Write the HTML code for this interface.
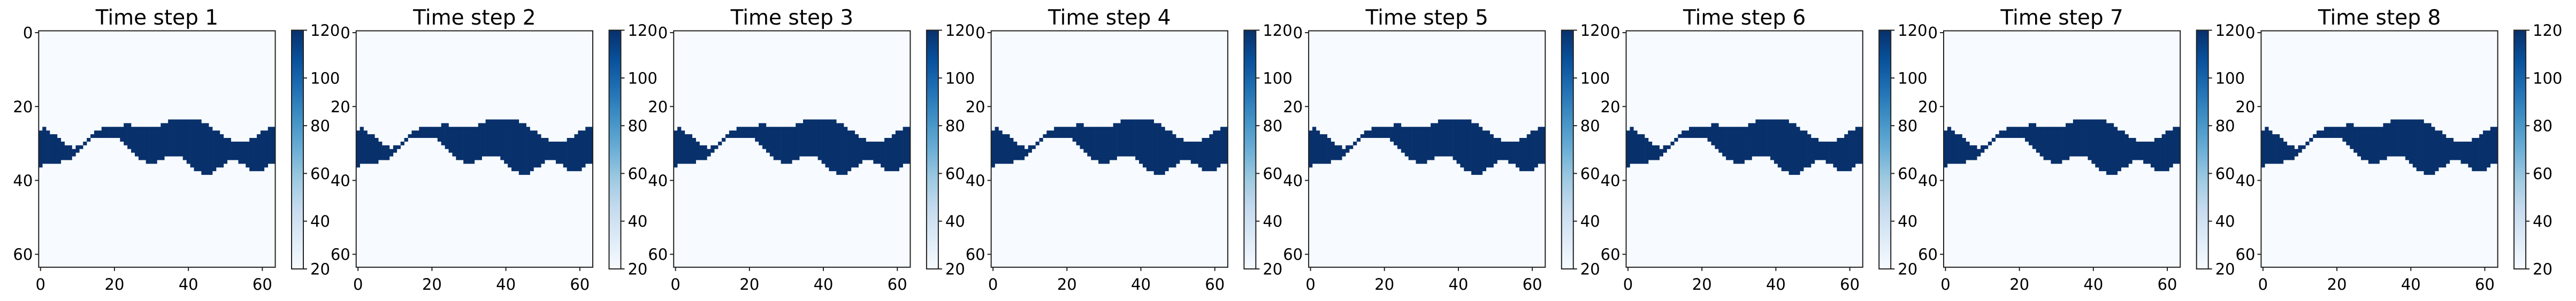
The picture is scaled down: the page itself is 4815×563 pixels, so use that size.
<!DOCTYPE html>
<html><head><meta charset="utf-8"><style>
html,body{margin:0;padding:0;background:#fff;}
svg{display:block;}
text{font-family:"DejaVu Sans","Liberation Sans",sans-serif;fill:#000;}
</style></head><body>
<svg id="fig" width="4815" height="563" viewBox="0 0 4815 563" xmlns="http://www.w3.org/2000/svg">
<defs>
<linearGradient id="blues" x1="0" y1="1" x2="0" y2="0">
<stop offset="0" stop-color="#f7fbff"/><stop offset="0.125" stop-color="#deebf7"/>
<stop offset="0.25" stop-color="#c6dbef"/><stop offset="0.375" stop-color="#9ecae1"/>
<stop offset="0.5" stop-color="#6baed6"/><stop offset="0.625" stop-color="#4292c6"/>
<stop offset="0.75" stop-color="#2171b5"/><stop offset="0.875" stop-color="#08519c"/>
<stop offset="1" stop-color="#08306b"/></linearGradient>
</defs>
</svg>
<script>
// data: per-column first and last filled row of the band (value 120), background 20
const stepLabels = ["Time step 1","Time step 2","Time step 3","Time step 4","Time step 5","Time step 6","Time step 7","Time step 8"];
const bandTop = [27,26,27,28,28,29,30,31,31,32,31,31,30,29,28,27,27,26,26,26,26,26,26,25,25,26,26,26,26,26,26,26,26,25,25,24,24,24,24,24,24,24,24,24,25,25,26,27,27,28,29,29,30,30,30,30,30,29,29,28,27,27,26,26];
const bandBottom = [36,35,35,35,35,35,34,34,34,33,32,31,30,29,28,28,28,28,28,28,28,28,29,30,31,32,33,34,34,35,35,35,34,34,33,33,33,33,33,34,35,36,37,37,38,38,38,37,36,36,35,34,34,34,35,35,36,37,37,37,37,36,35,35];
const bandValue = 120;
const bgValue = 20;
const axisTicks = [0,20,40,60];
const cbarTicks = [20,40,60,80,100,120];
const vmin = 20, vmax = 120;

const NS = "http://www.w3.org/2000/svg";
const svg = document.getElementById('fig');
const pitch = 593.45, ax0 = 72.3, cell = 6.91, ay0 = 57.6, N = 64;
const cbx = 545, cbw = 22, cby0 = 56.5, cby1 = 503;
function mk(tag, attrs, parent){const e=document.createElementNS(NS,tag);for(const k in attrs)e.setAttribute(k,attrs[k]);(parent||svg).appendChild(e);return e;}
function color(v){return v>=70?'#08306b':'#f7fbff';}

stepLabels.forEach((lab, p) => {
  const ox = p*pitch;
  const g = mk('g', {});
  
  
  const xs = c => ox + ax0 + cell*(c+0.5);
  const ys = r => ay0 + cell*(r+0.5);
  const bg = mk('rect', {x:ox+ax0, y:ay0, width:cell*N, height:cell*N, fill:color(bgValue)}, g);
  
  
  for (let c=0;c<N;c++){
    const top = bandTop[c], bot = bandBottom[c];
    const r = mk('rect', {x:(xs(c)-cell/2).toFixed(2), y:(ys(top)-cell/2).toFixed(2), width:(cell+0.3).toFixed(2), height:(ys(bot)-ys(top)+cell).toFixed(2), fill:color(bandValue)}, g);
    
    
  }
  const fr = mk('rect', {x:ox+ax0, y:ay0, width:cell*N, height:cell*N, fill:'none', stroke:'#222', 'stroke-width':2}, g);
  
  
  const t = mk('text', {x:ox+ax0+cell*N/2, y:46, 'text-anchor':'middle', 'font-size':39}, g);
  t.textContent = lab;
  
  
  axisTicks.forEach(v => {
    const x = xs(v);
    mk('line', {x1:x, x2:x, y1:ay0+cell*N, y2:ay0+cell*N+7, stroke:'#222','stroke-width':2}, g);
    const tx = mk('text', {x:x, y:542, 'text-anchor':'middle', 'font-size':29}, g);
    tx.textContent = v;
    
    
    const y = ys(v);
    mk('line', {x1:ox+ax0-7, x2:ox+ax0, y1:y, y2:y, stroke:'#222','stroke-width':2}, g);
    const ty = mk('text', {x:ox+ax0-11, y:y+10.5, 'text-anchor':'end', 'font-size':29}, g);
    ty.textContent = v;
    
    
  });
  const cb = mk('rect', {x:ox+cbx, y:cby0, width:cbw, height:cby1-cby0, fill:'url(#blues)', stroke:'#222','stroke-width':2}, g);
  
  
  cbarTicks.forEach(v => {
    const y = cby1 - (v-vmin)/(vmax-vmin)*(cby1-cby0);
    mk('line', {x1:ox+cbx+cbw, x2:ox+cbx+cbw+7, y1:y, y2:y, stroke:'#222','stroke-width':2}, g);
    const tc = mk('text', {x:ox+cbx+cbw+13, y:y+10.5, 'font-size':29}, g);
    tc.textContent = v;
    
    
  });
});
</script>
</body></html>
